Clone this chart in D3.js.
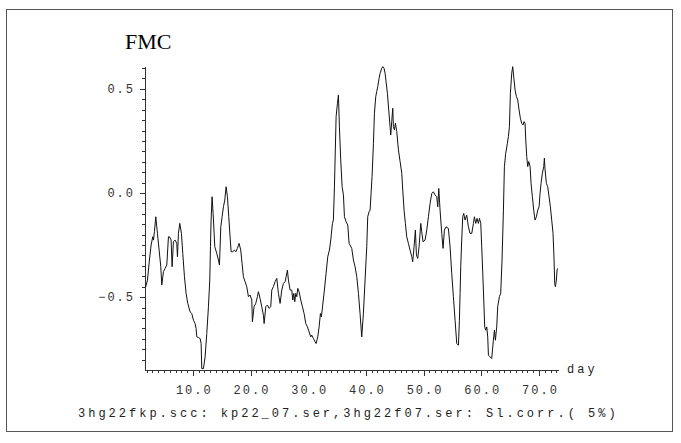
<!DOCTYPE html>
<meta charset="utf-8">
<html lang="en">

<head>
    <title>FMC - Sl.corr.</title>
    <script src="https://d3js.org/d3.v7.min.js"></script>
    <style>
        body {
            margin: 0;
            background-color: #ffffff;
        }

        .axis path,
        .axis line {
            fill: none;
            stroke: #333;
            shape-rendering: crispEdges;
        }

        .axis text {
            font: 12px "Liberation Mono", monospace;
            letter-spacing: 2px;
            fill: #333;
        }

        .mono {
            font: 12px "Liberation Mono", monospace;
            letter-spacing: 3px;
            fill: #222;
        }
    </style>
</head>

<body>
    <svg width="681" height="443"></svg>
    <script>
        // Data (day, correlation)
        var days = [
            1.85, 2.14, 2.48, 2.77, 3.06, 3.18, 3.35, 3.58, 3.87, 4.16,
            4.45, 4.62, 4.91, 5.20, 5.49, 5.78, 5.95, 6.24, 6.41, 6.64,
            6.93, 7.22, 7.34, 7.51, 7.74, 8.03, 8.26, 8.55, 8.84, 9.13,
            9.53, 9.82, 10.11, 10.40, 10.57, 10.69, 10.98, 11.27, 11.44, 11.55,
            11.84, 12.13, 12.42, 12.71, 12.94, 13.06, 13.17, 13.34, 13.52, 13.81,
            14.15, 14.44, 14.62, 14.85, 15.08, 15.31, 15.54, 15.77, 16.00, 16.23,
            16.46, 16.64, 16.93, 17.22, 17.45, 17.73, 18.02, 18.31, 18.54, 18.77,
            19.06,
            19.35, 19.64, 19.93, 20.22, 20.33, 20.62, 20.91, 21.20, 21.37, 21.66,
            21.95, 22.24, 22.36, 22.65, 22.93, 23.22, 23.51, 23.69, 23.97, 24.26,
            24.55, 24.84, 25.13, 25.42, 25.71, 26.00, 26.23, 26.40, 26.57, 26.86,
            27.15, 27.33, 27.50, 27.67, 27.85, 28.02, 28.19, 28.42, 28.71, 29.00,
            29.29, 29.58, 29.87, 30.16, 30.45, 30.62, 30.91, 31.20, 31.37, 31.66,
            31.89, 32.12, 32.29, 32.52, 32.81, 33.10, 33.39, 33.68, 33.91, 34.20,
            34.37, 34.55, 34.66, 34.84, 35.07, 35.24, 35.41, 35.64, 35.88, 36.11,
            36.28, 36.57, 36.86, 37.09,
            37.55, 37.84, 38.13, 38.42, 38.71, 38.99, 39.28, 39.57, 39.86, 40.15,
            40.32, 40.55, 40.73, 40.90, 41.07, 41.31, 41.48, 41.71, 41.88, 42.06,
            42.29, 42.46, 42.75, 42.92, 43.15, 43.33, 43.50, 43.73, 43.96, 44.19,
            44.31, 44.48, 44.66, 44.77, 44.94, 45.12, 45.35, 45.64, 45.93, 46.22,
            46.39, 46.62, 46.85, 47.08, 47.37, 47.66, 47.95, 48.12, 48.35, 48.58,
            48.76, 48.99, 49.22, 49.51, 49.68, 49.91, 50.26, 50.55, 50.84, 51.13,
            51.42, 51.70, 51.99, 52.28, 52.46, 52.63, 52.86, 53.15, 53.38, 53.61,
            53.90, 54.30, 54.59, 54.88, 55.17, 55.46, 55.75,
            56.04, 56.21, 56.33, 56.44, 56.61, 56.79, 56.96, 57.19, 57.48, 57.77,
            58.06, 58.35, 58.64, 58.81, 59.04, 59.27, 59.50, 59.68, 59.91, 60.08,
            60.26, 60.43, 60.60, 60.77, 60.95, 61.12, 61.24, 61.53, 61.81, 62.10,
            62.28, 62.45, 62.68, 62.85, 63.14, 63.37, 63.60, 63.84, 64.01, 64.24,
            64.53, 64.70, 64.88, 65.05, 65.28, 65.45, 65.68, 65.86, 66.09, 66.32,
            66.55, 66.78, 67.01, 67.24, 67.42, 67.59, 67.71, 67.88, 68.05, 68.23,
            68.46, 68.63, 68.86, 69.09, 69.32, 69.56, 69.79, 70.02, 70.19, 70.36,
            70.59, 70.83, 70.94, 71.06, 71.29, 71.52, 71.75, 71.98, 72.21, 72.44,
            72.62, 72.73, 72.85, 73.02, 73.14, 73.25
        ];

        var corr = [
            -0.450, -0.418, -0.322, -0.250, -0.210, -0.226, -0.186, -0.114, -0.194, -0.274,
            -0.354, -0.442, -0.378, -0.362, -0.346, -0.210, -0.210, -0.226, -0.354, -0.234,
            -0.226, -0.242, -0.306, -0.194, -0.146, -0.194, -0.290, -0.402, -0.482, -0.530,
            -0.571, -0.579, -0.611, -0.627, -0.651, -0.691, -0.694, -0.699, -0.723, -0.843,
            -0.843, -0.787, -0.675, -0.546, -0.418, -0.258, -0.130, -0.018, -0.098, -0.258,
            -0.290, -0.322, -0.346, -0.162, -0.114, -0.066, -0.034, 0.030, -0.018, -0.114,
            -0.210, -0.282, -0.282, -0.274, -0.282, -0.266, -0.242, -0.274, -0.338, -0.402,
            -0.426,
            -0.450, -0.498, -0.490, -0.514, -0.619, -0.546, -0.530, -0.498, -0.474, -0.506,
            -0.546, -0.587, -0.627, -0.546, -0.538, -0.554, -0.546, -0.466, -0.450, -0.426,
            -0.410, -0.482, -0.530, -0.466, -0.434, -0.426, -0.394, -0.370, -0.418, -0.466,
            -0.466, -0.514, -0.482, -0.522, -0.482, -0.498, -0.458, -0.474, -0.514, -0.546,
            -0.579, -0.627, -0.643, -0.667, -0.691, -0.683, -0.699, -0.715, -0.723, -0.691,
            -0.643, -0.579, -0.595, -0.538, -0.466, -0.386, -0.306, -0.274, -0.226, -0.146,
            -0.130, 0.030, 0.159, 0.367, 0.431, 0.471, 0.319, 0.159, 0.030, -0.010,
            -0.114, -0.138, -0.154, -0.242,
            -0.266, -0.322, -0.354, -0.402, -0.482, -0.579, -0.691, -0.579, -0.418, -0.258,
            -0.114, -0.090, -0.082, -0.002, 0.079, 0.239, 0.383, 0.463, 0.487, 0.511,
            0.551, 0.575, 0.599, 0.607, 0.599, 0.575, 0.535, 0.479, 0.399, 0.319,
            0.279, 0.343, 0.407, 0.319, 0.303, 0.335, 0.295, 0.207, 0.151, 0.095,
            0.014, -0.082, -0.146, -0.210, -0.242, -0.274, -0.306, -0.330, -0.258, -0.178,
            -0.298, -0.314, -0.258, -0.146, -0.186, -0.234, -0.226, -0.178, -0.114, -0.050,
            -0.002, 0.006, -0.010, -0.018, -0.066, 0.022, -0.082, -0.194, -0.266, -0.178,
            -0.162, -0.170, -0.258, -0.386, -0.498, -0.611, -0.723,
            -0.731, -0.611, -0.482, -0.354, -0.226, -0.114, -0.098, -0.130, -0.106, -0.162,
            -0.194, -0.194, -0.146, -0.114, -0.146, -0.122, -0.146, -0.122, -0.146, -0.258,
            -0.386, -0.514, -0.643, -0.659, -0.643, -0.691, -0.779, -0.787, -0.795, -0.707,
            -0.659, -0.707, -0.643, -0.546, -0.498, -0.482, -0.322, -0.082, 0.127, 0.191,
            0.239, 0.271, 0.319, 0.479, 0.575, 0.607, 0.543, 0.495, 0.463, 0.447,
            0.399, 0.359, 0.335, 0.327, 0.343, 0.335, 0.255, 0.175, 0.127, 0.151,
            0.127, 0.046, -0.018, -0.082, -0.130, -0.114, -0.082, -0.066, -0.002, 0.046,
            0.095, 0.127, 0.167, 0.111, 0.046, 0.030, -0.018, -0.066, -0.130, -0.194,
            -0.322, -0.434, -0.450, -0.418, -0.370, -0.362
        ];

        // Tick values
        var xTicks = [10, 20, 30, 40, 50, 60, 70];
        var yTicks = [-0.5, 0.0, 0.5];
        var xMinor = d3.range(2, 74, 1);
        var yMinor = d3.range(-16, 13).map(function(i) { return i * 0.05; });

        var title = "FMC";
        var xLabel = "day";
        var caption = "3hg22fkp.scc: kp22_07.ser,3hg22f07.ser: Sl.corr.( 5%)";

        var svg = d3.select("svg");

        // Frame
        svg.append("rect")
            .attr("x", 6.5)
            .attr("y", 9.5)
            .attr("width", 666)
            .attr("height", 422)
            .attr("fill", "none")
            .attr("stroke", "#555");

        var x = d3.scaleLinear()
            .domain([1.8, 73.3])
            .range([145.5, 558]);

        var y = d3.scaleLinear()
            .domain([-0.85, 0.61])
            .range([370, 66]);

        // Minor ticks on x
        svg.append("g")
            .attr("class", "axis")
            .attr("transform", "translate(0,370)")
            .call(d3.axisBottom(x).tickValues(xMinor).tickSize(3).tickSizeOuter(0).tickFormat(""));

        // Major ticks on x with labels
        svg.append("g")
            .attr("class", "axis")
            .attr("transform", "translate(0,370)")
            .call(d3.axisBottom(x).tickValues(xTicks).tickSize(6).tickSizeOuter(0).tickFormat(d3.format(".1f")))
            .call(function(g) { g.select(".domain").remove(); })
            .selectAll("text")
            .attr("y", 24)
            .attr("dy", 0)
            .attr("dx", 1);

        // Minor ticks on y
        svg.append("g")
            .attr("class", "axis")
            .attr("transform", "translate(145,0)")
            .call(d3.axisLeft(y).tickValues(yMinor).tickSize(3).tickSizeOuter(0).tickFormat(""));

        // Major ticks on y with labels
        svg.append("g")
            .attr("class", "axis")
            .attr("transform", "translate(145,0)")
            .call(d3.axisLeft(y).tickValues(yTicks).tickSize(5).tickPadding(5).tickSizeOuter(0).tickFormat(d3.format(".1f")))
            .call(function(g) { g.select(".domain").remove(); });

        // The series
        var line = d3.line()
            .x(function(d, i) { return x(days[i]); })
            .y(function(d) { return y(d); });

        svg.append("path")
            .datum(corr)
            .attr("d", line)
            .attr("fill", "none")
            .attr("stroke", "#111")
            .attr("stroke-width", 1);

        // Title
        svg.append("text")
            .attr("x", 125)
            .attr("y", 48.5)
            .style("font", "22px 'Liberation Serif', serif")
            .style("fill", "#000")
            .text(title);

        // Axis label
        svg.append("text")
            .attr("class", "mono")
            .attr("x", 567)
            .attr("y", 373)
            .text(xLabel);

        // Caption
        svg.append("text")
            .attr("class", "mono")
            .attr("x", 78)
            .attr("y", 417)
            .text(caption);
    </script>
</body>

</html>
